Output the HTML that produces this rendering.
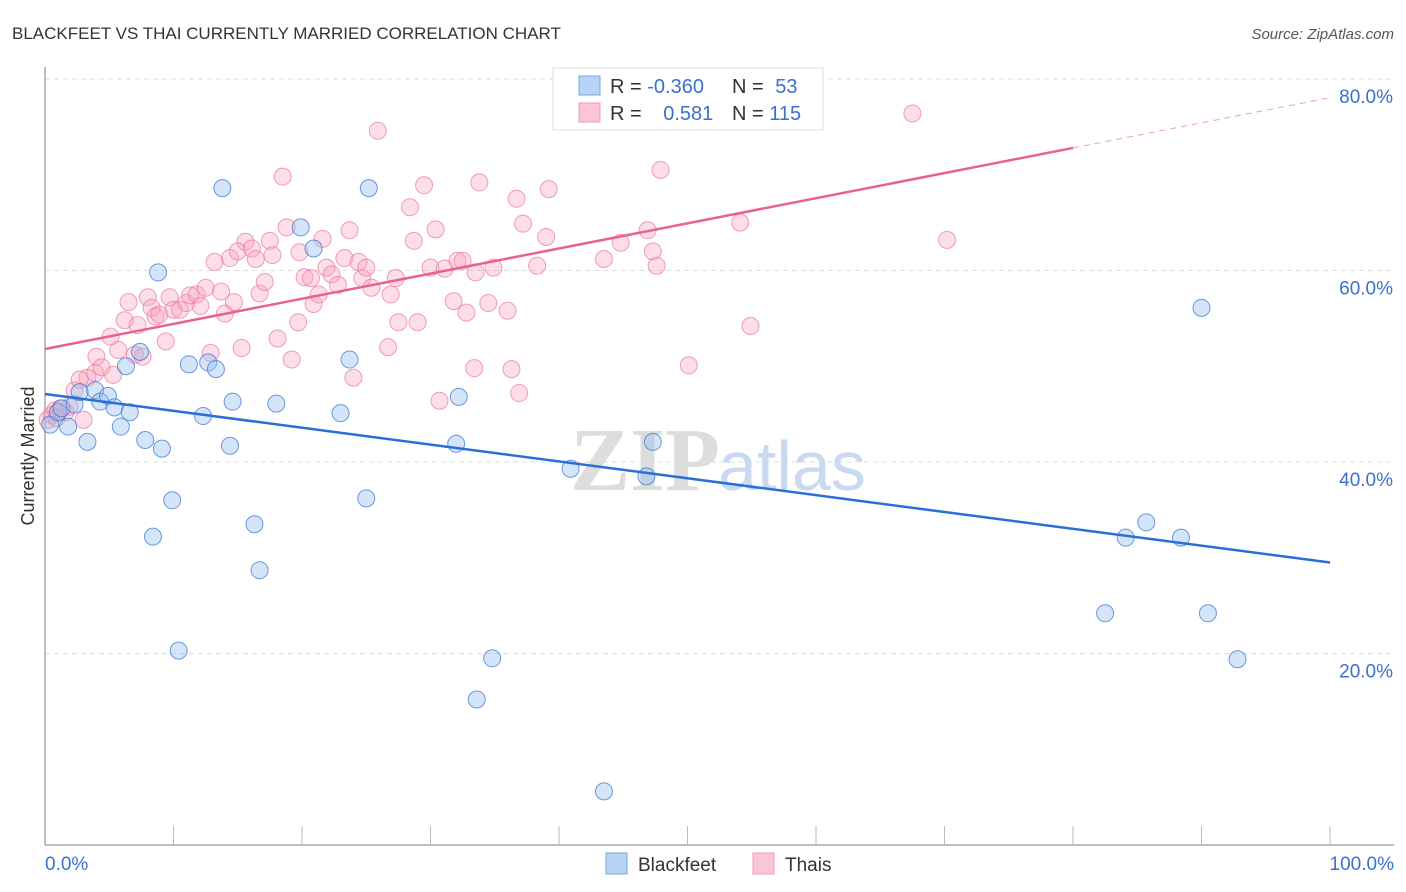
<!DOCTYPE html>
<html><head><meta charset="utf-8"><style>
body{margin:0;background:#fff;font-family:"Liberation Sans",sans-serif;}
svg{display:block}
</style></head><body>
<svg width="1406" height="892" xmlns="http://www.w3.org/2000/svg">
<text x="12" y="39" font-size="17" fill="#333">BLACKFEET VS THAI CURRENTLY MARRIED CORRELATION CHART</text>
<text x="1394" y="39" font-size="15" fill="#555" text-anchor="end" font-style="italic">Source: ZipAtlas.com</text>
<g id="grid"></g>
<text x="720" y="490" font-size="90" fill="#ddd" text-anchor="end" font-family="Liberation Serif" font-weight="bold">ZIP</text>
<text x="718" y="490" font-size="70" fill="#c9daf0">atlas</text>
<g id="marks"></g>
<text x="34" y="456" font-size="18" fill="#333" text-anchor="middle" transform="rotate(-90 34 456)">Currently Married</text>
<g>
<rect x="553" y="68" width="270" height="62" fill="#fff" stroke="#ddd"/>
<rect x="579" y="76" width="21" height="19" fill="#b8d3f5" stroke="#7aa7e0"/>
<rect x="579" y="103" width="21" height="19" fill="#fcc5d5" stroke="#f09ab3"/>
<text x="610" y="93" font-size="20" fill="#333">R = <tspan fill="#3a70d0">-0.360</tspan></text>
<text x="732" y="93" font-size="20" fill="#333">N = <tspan fill="#3a70d0" dx="6">53</tspan></text>
<text x="610" y="120" font-size="20" fill="#333">R = <tspan fill="#3a70d0" dx="16">0.581</tspan></text>
<text x="732" y="120" font-size="20" fill="#333">N = <tspan fill="#3a70d0">115</tspan></text>
</g>
<g>
<rect x="606" y="853" width="21" height="21" fill="#b8d3f5" stroke="#7aa7e0"/>
<text x="638" y="871" font-size="19" fill="#333">Blackfeet</text>
<rect x="753" y="853" width="21" height="21" fill="#fcc5d5" stroke="#f09ab3"/>
<text x="785" y="871" font-size="19" fill="#333">Thais</text>
</g>
</svg>
<script>
const yTicks=[20,40,60,80];
const yTickLabels=["20.0%","40.0%","60.0%","80.0%"];
const xTickLabels=["0.0%","100.0%"];
const blackfeetPoints=[[0.4,43.9],[1.0,45.2],[1.3,45.6],[1.8,43.7],[2.3,46.0],[2.7,47.3],[3.3,42.1],[3.9,47.5],[4.3,46.3],[4.9,46.9],[5.4,45.7],[5.9,43.7],[6.6,45.2],[7.4,51.5],[6.3,50.0],[7.8,42.3],[8.8,59.8],[9.1,41.4],[9.9,36.0],[8.4,32.2],[10.4,20.3],[11.2,50.2],[12.3,44.8],[12.7,50.4],[13.3,49.7],[13.8,68.6],[14.6,46.3],[14.4,41.7],[16.3,33.5],[16.7,28.7],[18.0,46.1],[19.9,64.5],[20.9,62.3],[23.0,45.1],[23.7,50.7],[25.0,36.2],[25.2,68.6],[32.0,41.9],[32.2,46.8],[34.8,19.5],[33.6,15.2],[40.4,75.7],[40.9,39.3],[43.5,5.6],[46.8,38.5],[47.3,42.1],[82.5,24.2],[84.1,32.1],[85.7,33.7],[88.4,32.1],[90.0,56.1],[90.5,24.2],[92.8,19.4]];
const thaisPoints=[[0.5,44.9],[0.8,45.4],[1.2,45.6],[1.6,45.2],[1.9,45.8],[2.3,47.5],[3.0,44.4],[3.3,48.8],[4.0,51.0],[3.9,49.3],[4.4,49.9],[5.1,53.1],[5.3,49.1],[5.7,51.7],[6.2,54.8],[6.5,56.7],[7.2,54.3],[7.0,51.2],[7.6,51.0],[8.0,57.2],[8.3,56.1],[8.6,55.2],[8.9,55.4],[9.4,52.6],[9.7,57.2],[10.0,55.9],[10.5,55.9],[11.0,56.6],[11.3,57.4],[11.8,57.5],[12.1,56.3],[12.5,58.2],[12.9,51.4],[13.2,60.9],[13.7,57.8],[14.0,55.5],[14.4,61.3],[14.7,56.7],[15.3,51.9],[15.6,63.0],[15.0,62.0],[16.1,62.3],[16.4,61.2],[16.7,57.6],[17.1,58.8],[17.5,63.1],[17.7,61.6],[18.1,52.9],[18.5,69.8],[18.8,64.5],[19.2,50.7],[19.7,54.6],[19.8,61.9],[20.2,59.3],[20.7,59.2],[20.9,56.5],[21.3,57.5],[21.6,63.3],[21.9,60.3],[22.3,59.6],[22.8,58.5],[23.3,61.3],[23.7,64.2],[24.0,48.8],[24.4,60.9],[24.7,59.2],[25.0,60.3],[25.4,58.2],[25.9,74.6],[26.7,52.0],[26.9,57.5],[27.3,59.2],[27.5,54.6],[28.4,66.6],[28.7,63.1],[29.0,54.6],[29.5,68.9],[30.0,60.3],[30.4,64.3],[30.7,46.4],[31.1,60.2],[31.8,56.8],[32.1,61.0],[32.5,61.0],[32.8,55.6],[33.4,49.8],[33.5,59.8],[33.8,69.2],[34.5,56.6],[34.9,60.3],[36.0,55.8],[36.3,49.7],[36.9,47.2],[36.7,67.5],[37.2,64.9],[38.3,60.5],[39.0,63.5],[39.2,68.5],[43.5,61.2],[44.8,62.9],[46.9,64.2],[47.3,62.0],[47.6,60.5],[47.9,70.5],[50.1,50.1],[54.1,65.0],[54.9,54.2],[67.5,76.4],[70.2,63.2],[0.2,44.4],[0.9,44.6],[2.7,48.6]];
const blackfeetTrend=[47.1,29.5];
const thaisTrend=[51.8,78.05];
const X0=45,X1=1330,Y0=845,PY=9.575;
const sx=v=>X0+(X1-X0)*v/100, sy=v=>Y0-v*PY;
const NS="http://www.w3.org/2000/svg";
function mk(tag,at,parent){const e=document.createElementNS(NS,tag);for(const k in at)e.setAttribute(k,at[k]);parent.appendChild(e);return e;}
const grid=document.getElementById('grid'),marks=document.getElementById('marks');
yTicks.forEach((t,i)=>{
 const g=mk('line',{x1:X0,x2:1394,y1:sy(t),y2:sy(t),stroke:'#ddd','stroke-dasharray':'5,4'},grid);
 
 
 const l=mk('text',{x:1393,y:sy(t)+24,'font-size':19,fill:'#3a70d0','text-anchor':'end'},grid);
 l.textContent=yTickLabels[i];
 
 
});
const ax=mk('line',{x1:X0,x2:1394,y1:Y0,y2:Y0,stroke:'#aaa','stroke-width':1.5},grid);


const ay=mk('line',{x1:X0,x2:X0,y1:67,y2:Y0,stroke:'#aaa','stroke-width':1.5},grid);


for(let i=1;i<=10;i++){const t=mk('line',{x1:sx(i*10),x2:sx(i*10),y1:826,y2:Y0,stroke:'#bbb'},grid);
 
 }
[[0,'start',45],[100,'end',1394]].forEach((d,i)=>{const l=mk('text',{x:d[2],y:870,'font-size':19,fill:'#3a70d0','text-anchor':d[1]},grid);l.textContent=xTickLabels[i];
 
 });
thaisPoints.forEach(p=>{const c=mk('circle',{cx:sx(p[0]),cy:sy(p[1]),r:8.5,fill:'rgba(248,160,188,0.35)',stroke:'rgba(232,120,155,0.7)','stroke-width':1},marks);
 
 });
blackfeetPoints.forEach(p=>{const c=mk('circle',{cx:sx(p[0]),cy:sy(p[1]),r:8.5,fill:'rgba(150,190,240,0.4)',stroke:'rgba(60,120,210,0.75)','stroke-width':1},marks);
 
 });
const bl=mk('line',{x1:sx(0),y1:sy(blackfeetTrend[0]),x2:sx(100),y2:sy(blackfeetTrend[1]),stroke:'#2a6fd6','stroke-width':2.5},marks);


const tAt=x=>thaisTrend[0]+(thaisTrend[1]-thaisTrend[0])*x/100;
const tl=mk('line',{x1:sx(0),y1:sy(tAt(0)),x2:sx(80),y2:sy(tAt(80)),stroke:'#e8628e','stroke-width':2.5},marks);


const td=mk('line',{x1:sx(80),y1:sy(tAt(80)),x2:sx(100),y2:sy(tAt(100)),stroke:'#e8a0b8','stroke-width':1,'stroke-dasharray':'6,5'},marks);


</script>
</body></html>
